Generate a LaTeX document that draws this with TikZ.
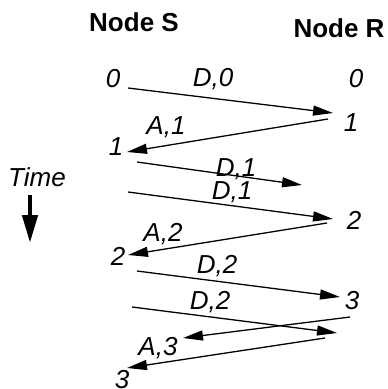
\documentclass[tikz,border=0pt]{standalone}
\usepackage{fontspec}
\setmainfont{Liberation Sans}
\usetikzlibrary{arrows.meta}
\begin{document}
\begin{tikzpicture}[x=1pt,y=-1pt,
  lbl/.style={font=\fontsize{26}{28}\selectfont\itshape, inner sep=0pt},
  head/.style={font=\fontsize{26}{28}\selectfont\bfseries, inner sep=0pt},
  msg/.style={line width=1.3pt, -{Triangle[length=20pt,width=10pt]}},
  timearrow/.style={line width=4.5pt, -{Triangle[length=28pt,width=15pt]}}]
\useasboundingbox (0,0) rectangle (388,389);

% column headings
\node[head] (hs) at (134,22) {Node S};
\node[head] (hr) at (339,28) {Node R};

% sequence numbers at sender and receiver
\node[lbl] (s0) at (113,79) {0};
\node[lbl] (r0) at (356,79) {0};
\node[lbl] (r1) at (351,123) {1};
\node[lbl] (s1) at (116,147) {1};
\node[lbl] (r2) at (354,220) {2};
\node[lbl] (s2) at (118,256) {2};
\node[lbl] (r3) at (352,301) {3};
\node[lbl] (s3) at (122,380) {3};

% message labels
\node[lbl] (ld0)  at (213,79)  {D,0};
\node[lbl] (la1)  at (166,127) {A,1};
\node[lbl] (ld1a) at (236,169) {D,1};
\node[lbl] (ld1b) at (232,192) {D,1};
\node[lbl] (la2)  at (163,234) {A,2};
\node[lbl] (ld2a) at (217,266) {D,2};
\node[lbl] (ld2b) at (210,302) {D,2};
\node[lbl] (la3)  at (158,348) {A,3};

% time axis
\node[lbl] (time) at (37,177) {Time};
\coordinate (t0) at (30,195);
\coordinate (t1) at (30,243);
\draw[timearrow] (t0) -- (t1);

% message end points
\coordinate (d0s) at (128,88);   \coordinate (d0e) at (333,113);
\coordinate (a1s) at (328,119);  \coordinate (a1e) at (127,152);
\coordinate (d1as) at (137,162); \coordinate (d1ae) at (302,185);
\coordinate (d1bs) at (128,192); \coordinate (d1be) at (333,219);
\coordinate (a2s) at (327,223);  \coordinate (a2e) at (128,255);
\coordinate (d2as) at (137,271); \coordinate (d2ae) at (340,297);
\coordinate (d2bs) at (132,307); \coordinate (d2be) at (337,333);
\coordinate (a3as) at (350,317); \coordinate (a3ae) at (183,338);
\coordinate (a3bs) at (325,338); \coordinate (a3be) at (127,368);

% messages
\draw[msg] (d0s) -- (d0e);
\draw[msg] (a1s) -- (a1e);
\draw[msg] (d1as) -- (d1ae);
\draw[msg] (d1bs) -- (d1be);
\draw[msg] (a2s) -- (a2e);
\draw[msg] (d2as) -- (d2ae);
\draw[msg] (d2bs) -- (d2be);
\draw[msg] (a3as) -- (a3ae);
\draw[msg] (a3bs) -- (a3be);
\end{tikzpicture}
\end{document}
